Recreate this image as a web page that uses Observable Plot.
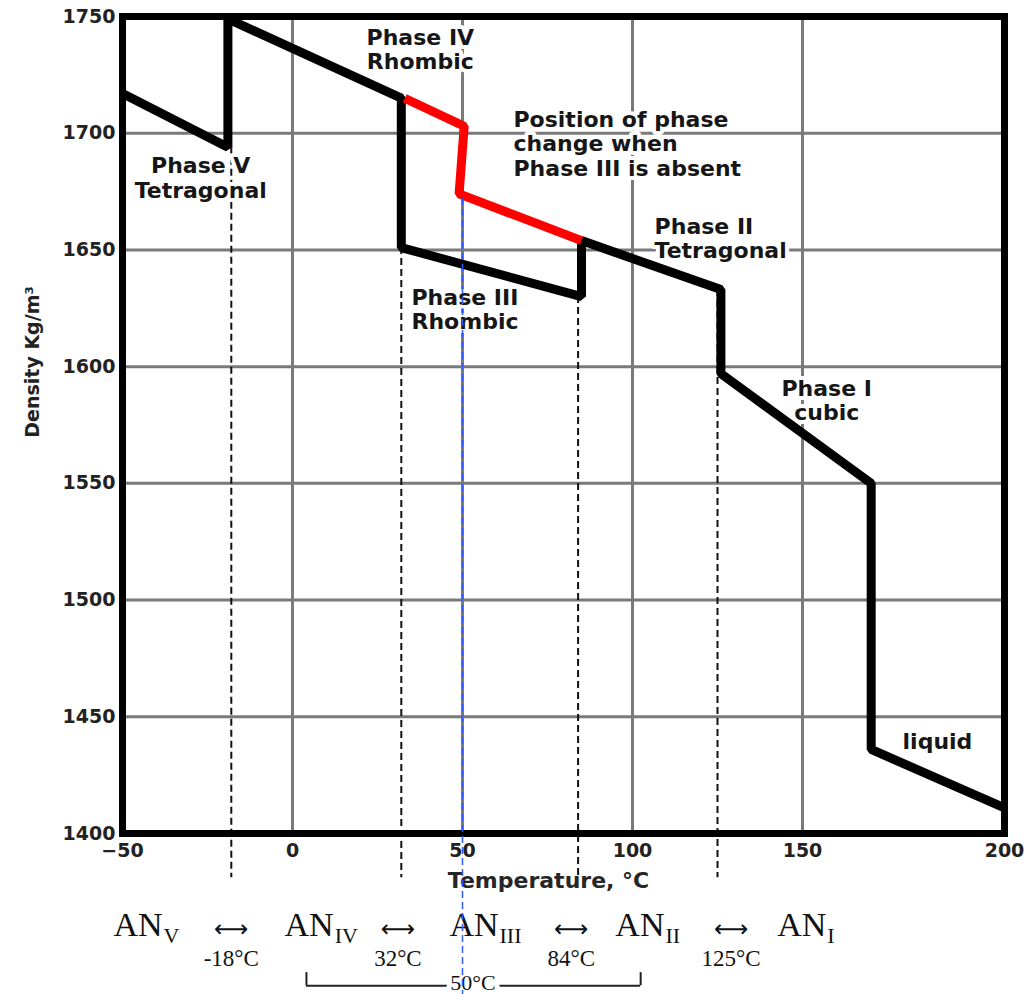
<!DOCTYPE html>
<html>
<head>
<meta charset="utf-8">
<script src="https://cdn.jsdelivr.net/npm/d3@7"></script>
<script src="https://cdn.jsdelivr.net/npm/@observablehq/plot@0.6"></script>
<style>
  html, body { margin: 0; padding: 0; background: #fff; }
  svg { display: block; }
</style>
</head>
<body>
<div id="chart"></div>
<script>
// ---- Data ----
// Density of ammonium nitrate vs temperature (solid black curve)
const temperature = [-50, -19, -19, 32, 32, 85, 85, 126, 126, 167, 167, 200];
const density     = [1717, 1694, 1749, 1715, 1651, 1630, 1654, 1633, 1597, 1550, 1436, 1411];

// Red path: phase change when phase III is absent
const absentTemperature = [33, 50.5, 49, 85];
const absentDensity     = [1715, 1703, 1674, 1654];

// Transition temperatures (dashed lines) and where the dashes start
const transitionTemps = [-18, 32, 84, 125];
const transitionTop   = [1694, 1651, 1630, 1633];
const dashBottom = 1381;

// Axis ticks and gridlines
const xTicks = [-50, 0, 50, 100, 150, 200];
const yTicks = [1400, 1450, 1500, 1550, 1600, 1650, 1700, 1750];
const xGrid = [0, 50, 100, 150];
const yGrid = [1450, 1500, 1550, 1600, 1650, 1700];

// Phase labels inside the plot
const labelText = ["Phase IV\nRhombic", "Phase V\nTetragonal", "Phase I\ncubic", "liquid",
                   "Position of phase\nchange when\nPhase III is absent", "Phase II\nTetragonal", "Phase III\nRhombic"];
const labelX = [37.6, -27, 156, 183.4, 65, 106.5, 35];
const labelY = [1736, 1681, 1585.7, 1439.4, 1695.6, 1655, 1624.7];
const labelCentered = [true, true, true, true, false, false, false];

// Phase sequence below the chart
const phaseNumerals = ["V", "IV", "III", "II", "I"];
const phaseNameX = [-38.2, 12.1, 60.6, 109.4, 155.9];
const transitionLabels = ["-18°C", "32°C", "84°C", "125°C"];
const transitionLabelX = [-18, 31, 82, 129];
const rangeLabel = "50°C";
const rangeLabelX = 53.1;
const bracketX = [4.1, 102.4];

// vertical placement of the rows below the axis (in density units, extended past the axis)
const rowName = 1356.3, rowSub = 1353.3, rowArrow = 1358.8, rowTemp = 1343.4;
const bracketTop = 1340.4, bracketBottom = 1334.8, rowRange = 1333.0;
const xLabelY = 1376.8, xLabelX = 75.3, yLabelY = 1602;
const blueX = 50, blueTop = 1672, blueBottom = 1330;

// ---- Build tables ----
const curve = temperature.map((t, i) => ({t, d: density[i]}));
const absent = absentTemperature.map((t, i) => ({t, d: absentDensity[i]}));
const dashes = transitionTemps.map((t, i) => ({t, top: transitionTop[i], bottom: dashBottom}));
const labels = labelText.map((text, i) => ({text, x: labelX[i], y: labelY[i], centered: labelCentered[i]}));
const names = phaseNameX.map((x, i) => ({x, y: rowName, ys: rowSub, sub: phaseNumerals[i]}));
const temps = transitionLabelX.map((x, i) => ({x, y: rowTemp, ya: rowArrow, text: transitionLabels[i]}));

const labelStyle = {
  fontSize: 22, fontWeight: "bold", fontFamily: "DejaVu Sans", fill: "#161616",
  lineAnchor: "middle", lineHeight: 1.12,
  stroke: "white", strokeWidth: 8, paintOrder: "stroke", strokeLinejoin: "round"
};
const serif = {fontFamily: "Liberation Serif", fill: "#111"};

const chart = Plot.plot({
  width: 1033,
  height: 994,
  marginLeft: 122,
  marginRight: 29,
  marginTop: 16,
  marginBottom: 161,
  x: {type: "linear", domain: [-50, 150, 200], range: [122, 802, 1004]},
  y: {domain: [1400, 1750]},
  style: {background: "white"},
  marks: [
    // gridlines
    Plot.ruleX(xGrid, {stroke: "#7a7a7a", strokeWidth: 3}),
    Plot.ruleY(yGrid, {stroke: "#7a7a7a", strokeWidth: 3}),
    // transition dashed lines
    Plot.ruleX(dashes, {x: "t", y1: "top", y2: "bottom", stroke: "#111", strokeWidth: 2, strokeDasharray: "7,4"}),
    // labels
    Plot.text(labels.filter(d => d.centered), {x: "x", y: "y", text: "text", textAnchor: "middle", ...labelStyle}),
    Plot.text(labels.filter(d => !d.centered), {x: "x", y: "y", text: "text", textAnchor: "start", ...labelStyle}),
    // main curve
    Plot.line(curve, {x: "t", y: "d", stroke: "black", strokeWidth: 9, strokeLinejoin: "miter", strokeLinecap: "butt"}),
    // phase III absent
    Plot.line(absent, {x: "t", y: "d", stroke: "#ff0000", strokeWidth: 9, strokeLinejoin: "miter", strokeLinecap: "butt"}),
    // frame
    Plot.frame({stroke: "black", strokeWidth: 7}),
    // axes
    Plot.axisX({ticks: xTicks, tickSize: 0, tickPadding: 10, label: null,
      fontSize: 19, fontWeight: "bold", fontFamily: "DejaVu Sans", fill: "#222"}),
    Plot.axisY({ticks: yTicks, tickSize: 0, tickPadding: 7, label: null, tickFormat: "d",
      fontSize: 19, fontWeight: "bold", fontFamily: "DejaVu Sans", fill: "#222"}),
    // axis titles
    Plot.text([{x: xLabelX, y: xLabelY}], {x: "x", y: "y", text: () => "Temperature, °C",
      textAnchor: "middle", lineAnchor: "bottom", fontSize: 22, fontWeight: "bold", fontFamily: "DejaVu Sans", fill: "#262626"}),
    Plot.text([{y: yLabelY}], {y: "y", frameAnchor: "left", dx: -90, rotate: -90, text: () => "Density Kg/m³",
      textAnchor: "middle", lineAnchor: "middle", fontSize: 19, fontWeight: "bold", fontFamily: "DejaVu Sans", fill: "#222"}),
    // phase sequence
    Plot.text(names, {x: "x", y: "y", text: () => "AN", textAnchor: "end", lineAnchor: "bottom", fontSize: 34, ...serif}),
    Plot.text(names, {x: "x", y: "ys", text: "sub", textAnchor: "start", lineAnchor: "bottom", dx: 1, fontSize: 22, ...serif}),
    Plot.text(temps, {x: "x", y: "ya", text: () => "⟷", textAnchor: "middle", lineAnchor: "middle",
      fontSize: 24, fontFamily: "DejaVu Sans", fill: "#111"}),
    Plot.text(temps, {x: "x", y: "y", text: "text", textAnchor: "middle", lineAnchor: "bottom", fontSize: 23, ...serif}),
    // bracket
    Plot.ruleY([{x1: bracketX[0], x2: bracketX[1], y: bracketBottom}], {x1: "x1", x2: "x2", y: "y", stroke: "#222", strokeWidth: 2}),
    Plot.ruleX(bracketX.map(x => ({x, y1: bracketTop, y2: bracketBottom})), {x: "x", y1: "y1", y2: "y2", stroke: "#222", strokeWidth: 2}),
    Plot.text([{x: rangeLabelX, y: rowRange}], {x: "x", y: "y", text: () => rangeLabel, textAnchor: "middle", lineAnchor: "bottom",
      fontSize: 22, ...serif, stroke: "white", strokeWidth: 10, paintOrder: "stroke"}),
    // blue marker line at 50 °C
    Plot.ruleX([{x: blueX, y1: blueTop, y2: blueBottom}], {x: "x", y1: "y1", y2: "y2", stroke: "#2f5bff", strokeWidth: 1.5, strokeDasharray: "7,4"})
  ]
});
document.getElementById("chart").appendChild(chart);
</script>
</body>
</html>
